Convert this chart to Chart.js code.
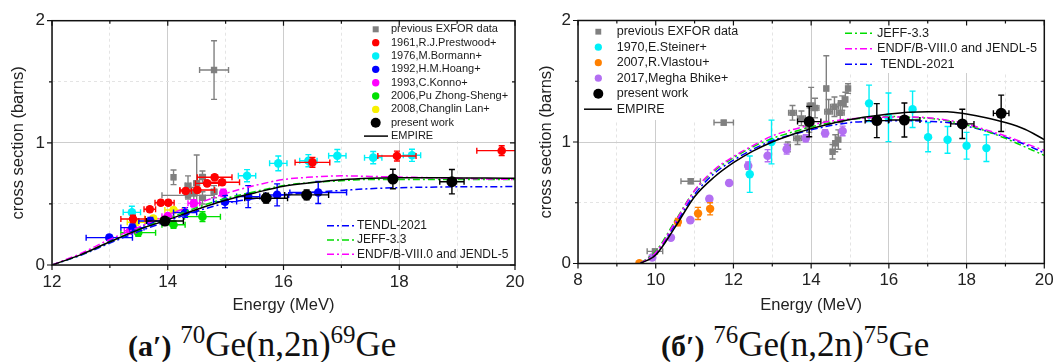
<!DOCTYPE html>
<html>
<head>
<meta charset="utf-8">
<script src="https://cdn.jsdelivr.net/npm/chart.js@4.4.0/dist/chart.umd.min.js"></script>
<style>
  html, body { margin: 0; padding: 0; background: #fff; }
  body { width: 1053px; height: 362px; position: relative; overflow: hidden; }
  .panel { position: absolute; top: 0; height: 318px; }
  #pa { left: 0; width: 525px; }
  #pb { left: 525px; width: 528px; }
  .cap { position: absolute; top: 327px; font-family: 'Liberation Serif', 'Times New Roman', serif;
         font-size: 35px; line-height: 1; color: #111; white-space: nowrap; }
  .cap b { font-size: 30px; }
  .cap .sup { font-size: 25px; position: relative; top: -13px; }
</style>
</head>
<body>
<div class="panel" id="pa"><canvas id="ca"></canvas></div>
<div class="panel" id="pb"><canvas id="cb"></canvas></div>
<div class="cap" style="left:128px"><b>(а′)</b> <span class="sup">70</span>Ge(n,2n)<span class="sup">69</span>Ge</div>
<div class="cap" style="left:661px"><b>(б′)</b> <span class="sup">76</span>Ge(n,2n)<span class="sup">75</span>Ge</div>
<script>
// points: [energy MeV, sigma barns, dE, dSigma]

// --- panel a: 70Ge(n,2n)69Ge ---
const aExfor = [[14.8, 1.596, 0.25, 0.24], [14.1, 0.718, 0.03, 0.06], [14.35, 0.65, 0.05, 0.08],
                [14.5, 0.67, 0.05, 0.23], [14.6, 0.72, 0.05, 0.05], [14.35, 0.57, 0.45, 0.03],
                [14.8, 0.60, 0.05, 0.05], [14.45, 0.585, 0.05, 0.05], [14.6, 0.55, 0.05, 0.05]];
const aPrestwood = [[13.40, 0.377, 0.21, 0.03], [13.69, 0.456, 0.10, 0.02], [13.88, 0.51, 0.10, 0.02],
                    [14.01, 0.51, 0.10, 0.02], [14.31, 0.606, 0.10, 0.02], [14.51, 0.614, 0.30, 0.02],
                    [14.68, 0.668, 0.20, 0.02], [14.81, 0.718, 0.30, 0.02], [14.94, 0.677, 0.30, 0.02],
                    [16.50, 0.840, 0.30, 0.04], [17.96, 0.892, 0.33, 0.04], [19.77, 0.936, 0.43, 0.04]];
const aBormann = [[13.38, 0.431, 0.15, 0.05], [15.37, 0.731, 0.15, 0.05], [15.91, 0.832, 0.15, 0.06],
                  [16.43, 0.854, 0.15, 0.05], [16.93, 0.895, 0.15, 0.05], [17.55, 0.879, 0.15, 0.05],
                  [18.22, 0.898, 0.15, 0.05]];
const aHoang = [[12.99, 0.224, 0.40, 0.02], [13.39, 0.306, 0.20, 0.03], [13.70, 0.36, 0.20, 0.03],
                [14.30, 0.43, 0.20, 0.04], [14.99, 0.519, 0.20, 0.05], [15.39, 0.56, 0.20, 0.09],
                [15.89, 0.574, 0.20, 0.09], [16.60, 0.593, 0.49, 0.09]];
const aKonno = [[13.35, 0.28, 0.10, 0.02], [14.00, 0.40, 0.10, 0.02], [14.45, 0.505, 0.10, 0.03],
                [14.96, 0.59, 0.05, 0.03]];
const aPu = [[13.49, 0.265, 0.30, 0.03], [14.10, 0.33, 0.20, 0.03], [14.60, 0.396, 0.31, 0.04]];
const aLan = [[13.45, 0.35, 0.15, 0.02], [13.75, 0.38, 0.15, 0.02], [14.10, 0.45, 0.15, 0.02]];
const aPresent = [[13.95, 0.36, 0.32, 0.03], [15.70, 0.547, 0.37, 0.04], [16.40, 0.574, 0.38, 0.04],
                  [17.89, 0.704, 0.05, 0.08], [18.91, 0.682, 0.21, 0.10]];

const aEnergy = [12, 12.5, 13, 13.5, 14, 14.5, 15, 15.5, 16, 16.5, 17, 17.5, 18, 18.5, 19, 19.5, 20];
const aEmpire = [0, 0.085, 0.19, 0.29, 0.37, 0.455, 0.53, 0.59, 0.645, 0.675, 0.698, 0.71, 0.714, 0.714, 0.713, 0.712, 0.71];
const aTendl  = [0, 0.08, 0.18, 0.275, 0.36, 0.44, 0.505, 0.545, 0.575, 0.595, 0.61, 0.625, 0.633, 0.637, 0.64, 0.641, 0.642];
const aJeff   = [0, 0.085, 0.19, 0.29, 0.38, 0.47, 0.545, 0.60, 0.65, 0.675, 0.69, 0.70, 0.70, 0.70, 0.70, 0.70, 0.70];
const aEndf   = [0, 0.095, 0.21, 0.31, 0.41, 0.50, 0.585, 0.65, 0.70, 0.72, 0.73, 0.725, 0.72, 0.715, 0.71, 0.705, 0.70];

// --- panel b: 76Ge(n,2n)75Ge ---
const bExfor = [[9.98, 0.10, 0.20, 0.02], [10.90, 0.677, 0.25, 0.02], [11.75, 1.16, 0.25, 0.02],
                [13.40, 0.96, 0.05, 0.04], [13.52, 1.24, 0.10, 0.06], [13.65, 1.03, 0.10, 0.05],
                [13.75, 1.195, 0.10, 0.06], [13.95, 1.13, 0.10, 0.05], [14.00, 1.30, 0.10, 0.15],
                [14.10, 1.28, 0.10, 0.08], [14.39, 1.44, 0.05, 0.27], [14.45, 1.25, 0.10, 0.10],
                [14.55, 0.92, 0.05, 0.06], [14.62, 0.99, 0.05, 0.07], [14.70, 1.02, 0.05, 0.08],
                [14.75, 1.24, 0.10, 0.08], [14.80, 1.32, 0.10, 0.06], [14.88, 1.35, 0.05, 0.06],
                [14.95, 1.44, 0.05, 0.04], [14.60, 1.29, 0.10, 0.08]];
const bSteiner = [[12.42, 0.735, 0, 0.15], [12.98, 1.0, 0, 0.18], [15.49, 1.318, 0, 0.15],
                  [15.99, 1.203, 0, 0.20], [16.61, 1.269, 0, 0.15], [17.01, 1.04, 0, 0.12],
                  [17.51, 1.018, 0, 0.11], [18.00, 0.969, 0, 0.11], [18.51, 0.95, 0, 0.11]];
const bVlastou = [[9.58, 0.003, 0, 0.01], [10.57, 0.341, 0, 0.03], [11.09, 0.412, 0, 0.05], [11.40, 0.45, 0, 0.05]];
const bBhike = [[9.91, 0.049, 0, 0.01], [10.39, 0.213, 0, 0.01], [10.89, 0.357, 0, 0.01], [11.38, 0.532, 0, 0.02],
                [11.89, 0.663, 0, 0.02], [12.38, 0.805, 0, 0.03], [12.88, 0.887, 0, 0.05], [13.37, 0.941, 0, 0.04],
                [13.86, 1.031, 0, 0.03], [14.36, 1.072, 0, 0.03], [14.81, 1.091, 0, 0.04]];
const bPresent = [[13.95, 1.168, 0.30, 0.125], [15.69, 1.176, 0.30, 0.14], [16.40, 1.181, 0.40, 0.14],
                  [17.89, 1.149, 0.30, 0.12], [18.89, 1.236, 0.20, 0.15]];

const bEnergy = [9.6, 10, 10.5, 11, 11.5, 12, 12.5, 13, 13.5, 14, 14.5, 15, 15.5, 16, 16.5, 17, 17.5, 18, 18.5, 19, 19.5, 20];
const bEmpire = [0, 0.07, 0.30, 0.55, 0.71, 0.83, 0.925, 1.0, 1.06, 1.11, 1.15, 1.185, 1.21, 1.23, 1.245, 1.25, 1.25, 1.23, 1.20, 1.16, 1.105, 1.02];
const bTendl  = [0, 0.085, 0.32, 0.57, 0.74, 0.85, 0.94, 1.01, 1.06, 1.10, 1.135, 1.16, 1.17, 1.175, 1.175, 1.17, 1.16, 1.13, 1.09, 1.04, 0.98, 0.91];
const bJeff   = [0, 0.10, 0.35, 0.60, 0.76, 0.87, 0.96, 1.03, 1.08, 1.125, 1.16, 1.185, 1.20, 1.21, 1.205, 1.195, 1.175, 1.14, 1.09, 1.03, 0.96, 0.89];
const bEndf   = [0, 0.09, 0.34, 0.60, 0.77, 0.88, 0.97, 1.05, 1.10, 1.14, 1.17, 1.19, 1.20, 1.205, 1.205, 1.20, 1.18, 1.15, 1.10, 1.05, 0.99, 0.93];

const aTickLabelsX = [12, 14, 16, 18, 20];
const bTickLabelsX = [8, 10, 12, 14, 16, 18, 20];
const tickLabelsY = [0, 1, 2];

Chart.defaults.font.family = "'Liberation Sans', Arial, sans-serif";
Chart.defaults.color = '#1a1a1a';

const points = (label, arr, color, r, order, style) => ({
  label, data: arr.map(p => ({ x: p[0], y: p[1] })), errs: arr,
  backgroundColor: color, borderColor: color, pointRadius: r, pointHoverRadius: r,
  pointBorderWidth: 0, pointStyle: style || 'circle', order
});
const curve = (label, xs, ys, color, dash, order) => ({
  label, data: xs.map((x, i) => ({ x, y: ys[i] })), showLine: true,
  borderColor: color, backgroundColor: color, borderWidth: 1.5, borderDash: dash,
  pointRadius: 0, cubicInterpolationMode: 'monotone', order
});
const dashDot = [7, 3, 2, 3];

// error bars under each point set
const errorBars = {
  id: 'errorBars',
  beforeDatasetDraw(chart, args) {
    const ds = chart.data.datasets[args.index];
    if (!ds.errs) return;
    const { ctx, chartArea: a } = chart;
    const sx = chart.scales.x, sy = chart.scales.y;
    const cap = 3;
    ctx.save();
    ctx.beginPath();
    ctx.rect(a.left, a.top, a.right - a.left, a.bottom - a.top);
    ctx.clip();
    ctx.strokeStyle = ds.borderColor;
    ctx.lineWidth = 1.4;
    ds.errs.forEach(([x, y, dx, dy]) => {
      const px = sx.getPixelForValue(x), py = sy.getPixelForValue(y);
      ctx.beginPath();
      if (dx) {
        const l = sx.getPixelForValue(x - dx), r = sx.getPixelForValue(x + dx);
        ctx.moveTo(l, py); ctx.lineTo(r, py);
        ctx.moveTo(l, py - cap); ctx.lineTo(l, py + cap);
        ctx.moveTo(r, py - cap); ctx.lineTo(r, py + cap);
      }
      if (dy) {
        const t = sy.getPixelForValue(y + dy), b = sy.getPixelForValue(y - dy);
        ctx.moveTo(px, t); ctx.lineTo(px, b);
        ctx.moveTo(px - cap, t); ctx.lineTo(px + cap, t);
        ctx.moveTo(px - cap, b); ctx.lineTo(px + cap, b);
      }
      ctx.stroke();
    });
    ctx.restore();
  }
};

// box round the plot, with ticks on all four sides
const frame = {
  id: 'frame',
  afterDraw(chart) {
    const { ctx, chartArea: a, scales: { x, y } } = chart;
    ctx.save();
    ctx.strokeStyle = '#111';
    ctx.lineWidth = 1.5;
    ctx.strokeRect(a.left, a.top, a.right - a.left, a.bottom - a.top);
    ctx.lineWidth = 1.2;
    ctx.beginPath();
    x.ticks.forEach(t => {
      const p = x.getPixelForValue(t.value), L = t.value % 2 === 0 ? 5 : 3;
      ctx.moveTo(p, a.bottom); ctx.lineTo(p, a.bottom + L);
      ctx.moveTo(p, a.top); ctx.lineTo(p, a.top + L);
    });
    y.ticks.forEach(t => {
      const p = y.getPixelForValue(t.value), L = t.value % 1 === 0 ? 5 : 3;
      ctx.moveTo(a.left, p); ctx.lineTo(a.left - L, p);
      ctx.moveTo(a.right, p); ctx.lineTo(a.right - L, p);
    });
    ctx.stroke();
    ctx.restore();
  }
};

// legends placed like in the figure
const boxLegends = {
  id: 'boxLegends',
  beforeDatasetsDraw(chart, args, opts) {
    const ctx = chart.ctx;
    (opts.groups || []).forEach(g => {
      if (!g.box) return;
      ctx.save();
      ctx.fillStyle = '#fff';
      ctx.fillRect(g.box[0], g.box[1], g.box[2] - g.box[0], g.box[3] - g.box[1]);
      ctx.restore();
    });
  },
  afterDraw(chart, args, opts) {
    const ctx = chart.ctx;
    (opts.groups || []).forEach(g => {
      ctx.save();
      ctx.font = g.size + "px 'Liberation Sans', Arial, sans-serif";
      ctx.textBaseline = 'middle';
      g.items.forEach((idx, i) => {
        const ds = chart.data.datasets[idx];
        const y = g.y + i * g.dy;
        if (ds.showLine) {
          ctx.strokeStyle = ds.borderColor;
          ctx.lineWidth = ds.borderWidth;
          ctx.setLineDash(ds.borderDash || []);
          ctx.beginPath(); ctx.moveTo(g.line[0], y); ctx.lineTo(g.line[1], y); ctx.stroke();
          ctx.setLineDash([]);
        } else {
          ctx.fillStyle = ds.backgroundColor;
          const r = ds.pointStyle === 'rect' ? g.r * 1.15 : (ds.pointRadius > 5 ? g.rBig : g.r);
          Chart.helpers.drawPoint(ctx, { pointStyle: ds.pointStyle, radius: r, borderWidth: 0, rotation: 0 }, g.mark, y);
        }
        ctx.fillStyle = '#1a1a1a';
        ctx.fillText(ds.label, g.text, y);
      });
      ctx.restore();
    });
  }
};

function axes(min, max, xLabels, xHeight, yWidth, yTitlePad) {
  const minor = v => Math.abs(v - Math.round(v / 2) * 2) > 1e-9;
  return {
    x: {
      type: 'linear', min, max,
      afterFit: s => { s.height = xHeight; s.paddingLeft = 0; s.paddingRight = 0; },
      ticks: { stepSize: 1, autoSkip: false, maxRotation: 0, padding: 7, color: '#222', font: { size: 17 },
               callback: v => xLabels.includes(v) ? String(v) : '' },
      grid: { drawTicks: false, color: c => minor(c.tick.value) ? '#e4e4e4' : '#cdcdcd', lineWidth: 1 },
      border: { display: false, dash: c => (c.tick && minor(c.tick.value)) ? [3, 3] : [] },
      title: { display: true, text: 'Energy (MeV)', color: '#222', font: { size: 16.5 }, padding: { top: 0, bottom: 3 } }
    },
    y: {
      type: 'linear', min: 0, max: 2,
      afterFit: s => { s.width = yWidth; s.paddingTop = 0; s.paddingBottom = 0; },
      ticks: { stepSize: 0.5, padding: 7, color: '#222', font: { size: 17 },
               callback: v => tickLabelsY.includes(v) ? String(v) : '' },
      grid: { drawTicks: false, color: c => (c.tick.value % 1) ? '#e4e4e4' : '#cdcdcd', lineWidth: 1 },
      border: { display: false, dash: c => (c.tick && c.tick.value % 1) ? [3, 3] : [] },
      title: { display: true, text: 'cross section (barns)', color: '#222', font: { size: 16.5 }, padding: { top: yTitlePad, bottom: 0 } }
    }
  };
}

// panel a
new Chart(document.getElementById('ca'), {
  type: 'scatter',
  data: {
    datasets: [
      points('previous EXFOR data', aExfor, '#808080', 4.5, 12, 'rect'),
      points('1961,R.J.Prestwood+', aPrestwood, '#ff0000', 4.3, 6),
      points('1976,M.Bormann+', aBormann, '#00f0f8', 4.3, 7),
      points('1992,H.M.Hoang+', aHoang, '#0000ff', 4.3, 8),
      points('1993,C.Konno+', aKonno, '#ff00ff', 4.3, 9),
      points('2006,Pu Zhong-Sheng+', aPu, '#00e000', 4.3, 10),
      points('2008,Changlin Lan+', aLan, '#f8f000', 4.3, 11),
      points('present work', aPresent, '#000000', 5.5, 0),
      curve('EMPIRE', aEnergy, aEmpire, '#000000', [], 1),
      curve('TENDL-2021', aEnergy, aTendl, '#0000ff', dashDot, 4),
      curve('JEFF-3.3', aEnergy, aJeff, '#00dd00', dashDot, 3),
      curve('ENDF/B-VIII.0 and JENDL-5', aEnergy, aEndf, '#ff00ff', dashDot, 2)
    ]
  },
  options: {
    responsive: true, maintainAspectRatio: false, animation: false, devicePixelRatio: 1, events: [],
    layout: { padding: { top: 20.7, right: 10, left: 0, bottom: 0 } },
    scales: axes(12, 20, aTickLabelsX, 53, 52, 8.6),
    plugins: {
      legend: { display: false }, tooltip: { enabled: false },
      boxLegends: { groups: [
        { items: [0, 1, 2, 3, 4, 5, 6, 7, 8], y: 29.3, dy: 13.35, size: 11, mark: 375.7, text: 391,
          line: [364, 388], r: 3.7, rBig: 5, box: [362, 21.5, 514, 141] },
        { items: [9, 10, 11], y: 225.7, dy: 14.3, size: 12, mark: 0, text: 357, line: [327, 354], r: 4, rBig: 5 }
      ] }
    }
  },
  plugins: [errorBars, frame, boxLegends]
});

// panel b
new Chart(document.getElementById('cb'), {
  type: 'scatter',
  data: {
    datasets: [
      points('previous EXFOR data', bExfor, '#808080', 4.5, 12, 'rect'),
      points('1970,E.Steiner+', bSteiner, '#00f0f8', 4.2, 7),
      points('2007,R.Vlastou+', bVlastou, '#ff8000', 4.2, 8),
      points('2017,Megha Bhike+', bBhike, '#b36ff2', 4.3, 9),
      points('present work', bPresent, '#000000', 5.5, 0),
      curve('EMPIRE', bEnergy, bEmpire, '#000000', [], 1),
      curve('JEFF-3.3', bEnergy, bJeff, '#00dd00', dashDot, 3),
      curve('ENDF/B-VIII.0 and JENDL-5', bEnergy, bEndf, '#ff00ff', dashDot, 2),
      curve(' TENDL-2021', bEnergy, bTendl, '#0000ff', dashDot, 4)
    ]
  },
  options: {
    responsive: true, maintainAspectRatio: false, animation: false, devicePixelRatio: 1, events: [],
    layout: { padding: { top: 20.5, right: 8.7, left: 0, bottom: 0 } },
    scales: axes(8, 20, bTickLabelsX, 54.5, 53, 12),
    plugins: {
      legend: { display: false }, tooltip: { enabled: false },
      boxLegends: { groups: [
        { items: [0, 1, 2, 3, 4, 5], y: 31.7, dy: 15.5, size: 12.5, mark: 73.3, text: 91.7,
          line: [59, 87], r: 3.6, rBig: 5, box: [55, 21.5, 210, 120] },
        { items: [6, 7, 8], y: 33.3, dy: 15.5, size: 12.7, mark: 0, text: 352, line: [320, 347],
          r: 4, rBig: 5, box: [315, 21.5, 518.5, 73] }
      ] }
    }
  },
  plugins: [errorBars, frame, boxLegends]
});
</script>
</body>
</html>
